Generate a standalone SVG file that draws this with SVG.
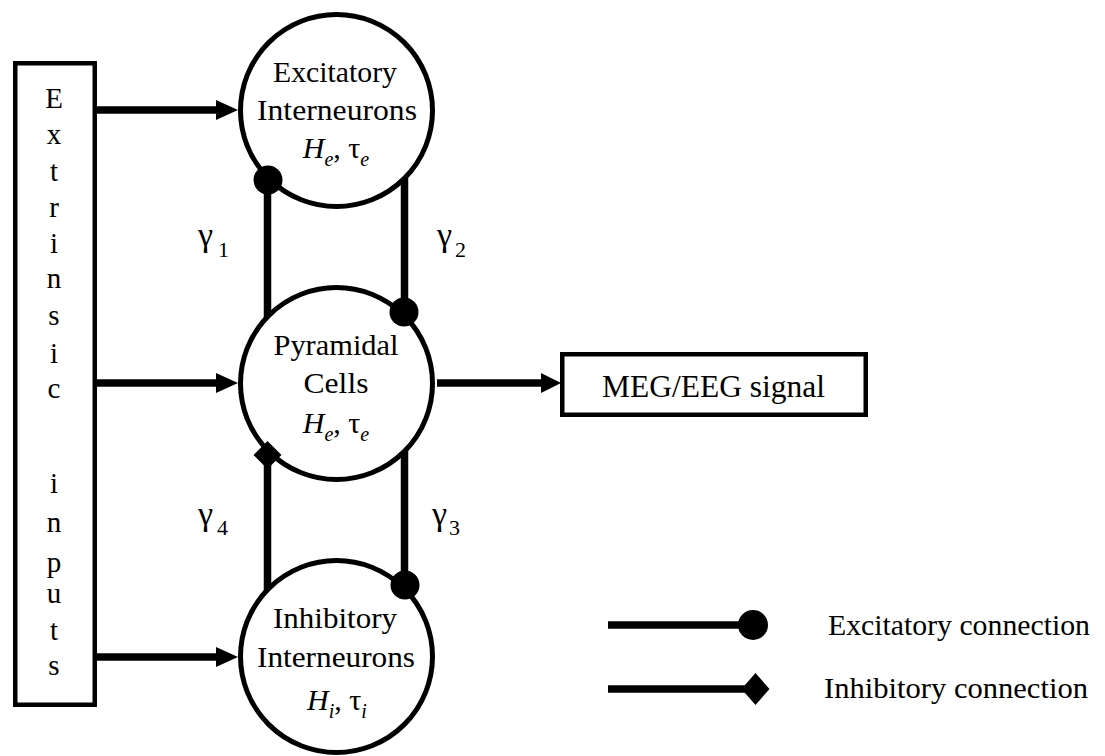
<svg xmlns="http://www.w3.org/2000/svg" width="1105" height="756" viewBox="0 0 1105 756">
<style>
text{font-family:"Liberation Serif","Times New Roman",serif;fill:#000}
.lbl{font-size:30px;text-anchor:middle}
.vert{font-size:29px;text-anchor:middle}
.gam{font-size:34px}
.sub{font-size:20px}
.gsub{font-size:22px}
.leg{font-size:30px}
.node{fill:#fff;stroke:#000;stroke-width:5}
.box{fill:#fff;stroke:#000;stroke-width:4.5}
.ln{stroke:#000;stroke-width:7.5;fill:none}
.hd{fill:#000}
</style>
<rect width="1105" height="756" fill="#fff"/>
<g id="connectors">
  <line class="ln" x1="97" y1="110" x2="220" y2="110"/>
  <polygon class="hd" points="216,100 238,110 216,120"/>
  <line class="ln" x1="97" y1="383" x2="220" y2="383"/>
  <polygon class="hd" points="216,373 238,383 216,393"/>
  <line class="ln" x1="97" y1="657" x2="220" y2="657"/>
  <polygon class="hd" points="216,647 238,657 216,667"/>
  <line class="ln" x1="437" y1="383" x2="545" y2="383"/>
  <polygon class="hd" points="541,373 561,383 541,393"/>
  <line class="ln" x1="267.5" y1="180" x2="267.5" y2="318"/>
  <line class="ln" x1="404.5" y1="178" x2="404.5" y2="312"/>
  <line class="ln" x1="267.5" y1="455" x2="267.5" y2="591"/>
  <line class="ln" x1="404.5" y1="450" x2="404.5" y2="585"/>
</g>
<g id="extrinsic-inputs">
  <rect class="box" x="15.25" y="63.25" width="79.5" height="641.5"/>
  <text class="vert" x="54" y="108">E</text>
  <text class="vert" x="54" y="144">x</text>
  <text class="vert" x="54" y="181">t</text>
  <text class="vert" x="54" y="217">r</text>
  <text class="vert" x="54" y="253">i</text>
  <text class="vert" x="54" y="288">n</text>
  <text class="vert" x="54" y="325">s</text>
  <text class="vert" x="54" y="363">i</text>
  <text class="vert" x="54" y="398">c</text>
  <text class="vert" x="54" y="493">i</text>
  <text class="vert" x="54" y="532">n</text>
  <text class="vert" x="54" y="572">p</text>
  <text class="vert" x="54" y="603">u</text>
  <text class="vert" x="54" y="640">t</text>
  <text class="vert" x="54" y="675">s</text>
</g>
<g id="excitatory-interneurons">
  <circle class="node" cx="336.5" cy="110.5" r="96"/>
  <text class="lbl" x="335" y="82" textLength="124" lengthAdjust="spacingAndGlyphs">Excitatory</text>
  <text class="lbl" x="337" y="120" textLength="160" lengthAdjust="spacingAndGlyphs">Interneurons</text>
  <text class="lbl" x="336" y="158"><tspan font-style="italic">H</tspan><tspan class="sub" font-style="italic" dy="8">e</tspan><tspan dy="-8">, τ</tspan><tspan class="sub" font-style="italic" dy="8">e</tspan></text>
</g>
<g id="pyramidal-cells">
  <circle class="node" cx="336.5" cy="383.5" r="96"/>
  <text class="lbl" x="336" y="355" textLength="125" lengthAdjust="spacingAndGlyphs">Pyramidal</text>
  <text class="lbl" x="336" y="393" textLength="65" lengthAdjust="spacingAndGlyphs">Cells</text>
  <text class="lbl" x="336" y="433"><tspan font-style="italic">H</tspan><tspan class="sub" font-style="italic" dy="8">e</tspan><tspan dy="-8">, τ</tspan><tspan class="sub" font-style="italic" dy="8">e</tspan></text>
</g>
<g id="inhibitory-interneurons">
  <circle class="node" cx="336.5" cy="656.5" r="96"/>
  <text class="lbl" x="335" y="628" textLength="124" lengthAdjust="spacingAndGlyphs">Inhibitory</text>
  <text class="lbl" x="336" y="667" textLength="158" lengthAdjust="spacingAndGlyphs">Interneurons</text>
  <text class="lbl" x="337" y="710"><tspan font-style="italic">H</tspan><tspan class="sub" font-style="italic" dy="8">i</tspan><tspan dy="-8">, τ</tspan><tspan class="sub" font-style="italic" dy="8">i</tspan></text>
</g>
<g id="synapses">
  <circle class="hd" cx="268" cy="180" r="14.5"/>
  <circle class="hd" cx="404" cy="312" r="14.5"/>
  <circle class="hd" cx="405" cy="585" r="14.5"/>
  <polygon class="hd" points="267.5,441 281.5,455 267.5,469 253.5,455"/>
</g>
<g id="meg-eeg-signal">
  <rect class="box" x="562.25" y="354.25" width="303.5" height="60.5"/>
  <text x="713.5" y="397" style="font-size:31px;text-anchor:middle" textLength="223" lengthAdjust="spacingAndGlyphs">MEG/EEG signal</text>
</g>
<g id="gains">
  <text class="gam" x="198" y="246">γ</text><text class="gsub" x="218" y="257">1</text>
  <text class="gam" x="437" y="246">γ</text><text class="gsub" x="455" y="257">2</text>
  <text class="gam" x="432" y="525">γ</text><text class="gsub" x="449" y="535">3</text>
  <text class="gam" x="198" y="525">γ</text><text class="gsub" x="217" y="535">4</text>
</g>
<g id="legend">
  <line x1="608" y1="625" x2="745" y2="625" stroke="#000" stroke-width="7.5"/>
  <circle class="hd" cx="753" cy="625" r="15"/>
  <text class="leg" x="828" y="635" textLength="262" lengthAdjust="spacingAndGlyphs">Excitatory connection</text>
  <line x1="608" y1="689" x2="748" y2="689" stroke="#000" stroke-width="7.5"/>
  <polygon class="hd" points="741.5,689 755.5,673 769.5,689 755.5,705"/>
  <text class="leg" x="824" y="698" textLength="264" lengthAdjust="spacingAndGlyphs">Inhibitory connection</text>
</g>
</svg>
